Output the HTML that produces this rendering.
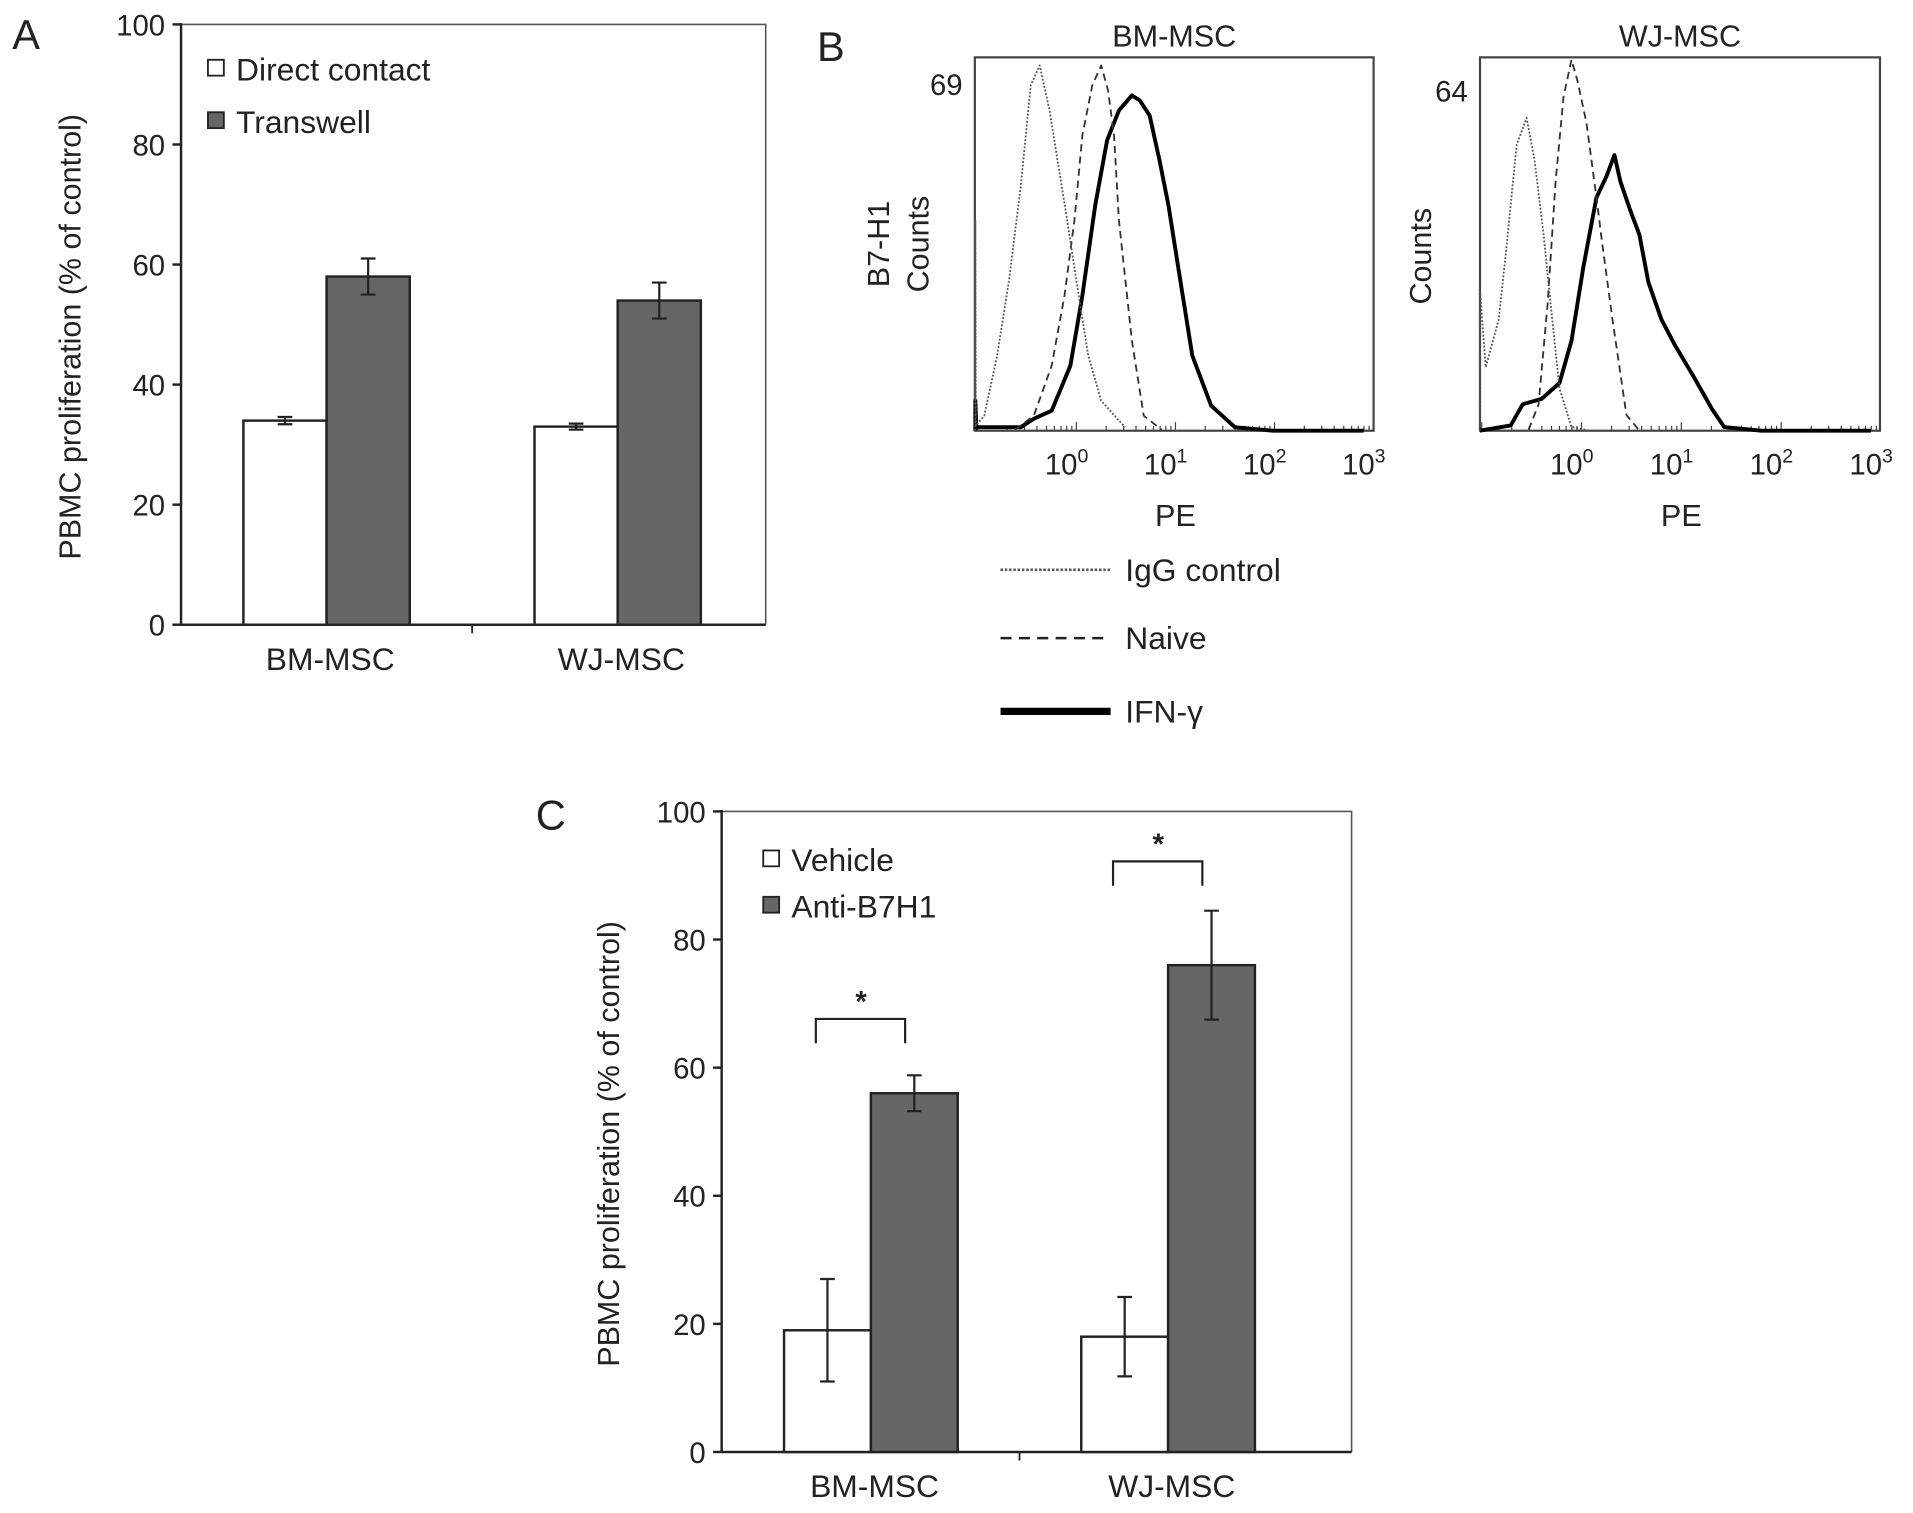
<!DOCTYPE html>
<html><head><meta charset="utf-8"><style>
html,body{margin:0;padding:0;background:#fff}
svg{display:block}
text{font-family:"Liberation Sans",Arial,sans-serif;fill:#222}
</style></head><body>
<svg id="fig" width="1913" height="1513" viewBox="0 0 1564 1240" preserveAspectRatio="none" xmlns="http://www.w3.org/2000/svg">
<g id="A"></g>
<g id="B"></g>
<g id="C"></g>
</svg>
<script>
// ---- Panel A data ----
const aCategories = ["BM-MSC","WJ-MSC"];
const aDirect = [34, 33];
const aDirectErr = [0.6, 0.5];
const aTranswell = [58, 54];
const aTranswellErr = [3, 3];
const aTicks = [0,20,40,60,80,100];
// ---- Panel C data ----
const cCategories = ["BM-MSC","WJ-MSC"];
const cVehicle = [19, 18];
const cVehicleErr = [8, 6.2];
const cAnti = [56, 76];
const cAntiErr = [2.8, 8.5];
const cBracket = [67.6, 92.2];
const cTicks = [0,20,40,60,80,100];
// ---- Panel B data (log10 PE, counts) ----
const bmIgGLog = [-1.02,-1.02,-1.015,-0.93,-0.80,-0.68,-0.56,-0.46,-0.37,-0.27,-0.19,-0.10,0,0.12,0.25,0.49];
const bmIgGCnt = [0,42,1,3,15,30,49,69,73,64,54,43,30,15,6,0.7];
const bmNaiveLog = [-0.62,-0.43,-0.25,-0.12,-0.02,0.06,0.16,0.25,0.32,0.38,0.43,0.56,0.68,0.86];
const bmNaiveCnt = [0.2,3,13,27,42,59,69,73,68,59,42,18,3,0.2];
const bmIfnLog = [-1.02,-1.02,-1.01,-0.86,-0.56,-0.43,-0.25,-0.06,0.06,0.19,0.31,0.43,0.56,0.64,0.74,0.84,0.93,1.05,1.17,1.36,1.6,1.98,2.9];
const bmIfnCnt = [0,6,0.7,0.7,0.7,2.4,4,13,27,45,58,64,67,66,63,54,45,30,15,5,0.7,0,0];
const wjIgGLog = [-1.02,-1.02,-0.96,-0.83,-0.75,-0.65,-0.55,-0.47,-0.38,-0.31,-0.22,-0.10,0.09];
const wjIgGCnt = [0,27,12,21,35,54,59,51,37,24,8,0.7,0];
const wjNaiveLog = [-0.53,-0.43,-0.34,-0.26,-0.18,-0.10,-0.04,0.05,0.15,0.21,0.31,0.45,0.58];
const wjNaiveCnt = [0.2,5,24,47,63,70,66,58,44,35,21,3,0];
const wjIfnLog = [-1.02,-0.71,-0.59,-0.40,-0.22,-0.10,0.02,0.15,0.25,0.33,0.39,0.48,0.58,0.67,0.80,0.94,1.13,1.31,1.43,1.8,2.9];
const wjIfnCnt = [0,1,5,6,9,17,31,44,48,52,47,42,37,28,21,16,10,4,0.7,0,0];
const bmMax = 69, wjMax = 64;
const decadeLabels = ["0","1","2","3"];

const NS="http://www.w3.org/2000/svg";
function mk(parent,tag,attrs,txt){const e=document.createElementNS(NS,tag);for(const k in attrs)e.setAttribute(k,attrs[k]);if(txt!==undefined)e.textContent=txt;parent.appendChild(e);return e;}

function barPanel(g,o){
  const y=v=>o.y0-(v/100)*(o.y0-o.y100);
  let e=mk(g,'path',{d:`M${o.x0},${o.y100}H${o.x1}V${o.y0}`,fill:'none',stroke:'#555','stroke-width':1.3});
  
  e=mk(g,'line',{x1:o.x0,y1:o.y100-1,x2:o.x0,y2:o.y0,stroke:'#222','stroke-width':2});
  
  e=mk(g,'line',{x1:o.x0,y1:o.y0,x2:o.x1,y2:o.y0,stroke:'#222','stroke-width':2});
  
  o.ticks.forEach(t=>{
    let l=mk(g,'line',{x1:o.x0-7,y1:y(t),x2:o.x0,y2:y(t),stroke:'#222','stroke-width':2});
    
    let tx=mk(g,'text',{x:o.x0-13,y:y(t)+9,'text-anchor':'end','font-size':24},String(t));
    
  });
  const n=o.cats.length;
  const center=i=>o.c0+i*o.cgap;
  for(let i=1;i<n;i++){const tx=(center(i-1)+center(i))/2;let l=mk(g,'line',{x1:tx,y1:o.y0,x2:tx,y2:o.y0+7,stroke:'#222','stroke-width':1.5});
    }
  o.cats.forEach((c,i)=>{
    const cx=center(i);
    [[o.v1,o.e1,'#fff','white'],[o.v2,o.e2,'#666','grey']].forEach((s,k)=>{
      const bx=k===0?cx-o.bw:cx, v=s[0][i], er=s[1][i];
      let r=mk(g,'rect',{x:bx,y:y(v),width:o.bw,height:y(0)-y(v),fill:s[2],stroke:'#222','stroke-width':2});
      
      const mx=bx+o.bw/2;
      let eb=mk(g,'path',{d:`M${mx},${y(v+er)}V${y(v-er)}M${mx-6},${y(v+er)}H${mx+6}M${mx-6},${y(v-er)}H${mx+6}`,stroke:'#222','stroke-width':1.8,fill:'none'});
      
    });
    let t=mk(g,'text',{x:cx+3,y:o.y0+37,'text-anchor':'middle','font-size':26},c);
    
  });
  o.legend.forEach((L,k)=>{
    const ly=o.ly+k*o.lgap;
    let r=mk(g,'rect',{x:o.lx,y:ly-8,width:13,height:13,fill:k?'#666':'#fff',stroke:'#222','stroke-width':1.5});
    
    let t=mk(g,'text',{x:o.lx+23,y:ly+9,'font-size':26},L);
    
  });
  let yl=mk(g,'text',{x:0,y:0,'text-anchor':'middle','font-size':25,transform:`translate(${o.ylx},${(o.y0+o.y100)/2+10}) rotate(-90)`},'PBMC proliferation (% of control)');
  
  let pl=mk(g,'text',{x:o.px,y:o.py,'font-size':34},o.letter);
  
  return {y,center};
}

barPanel(document.getElementById('A'),{x0:148,x1:626,y0:512,y100:20,ticks:aTicks,cats:aCategories,c0:267,cgap:238,bw:68,
  v1:aDirect,e1:aDirectErr,v2:aTranswell,e2:aTranswellErr,legend:["Direct contact","Transwell"],lx:170,ly:57,lgap:43,
  ylx:66,px:10,py:40,letter:'A'});

const gC=document.getElementById('C');
const pc=barPanel(gC,{x0:590,x1:1105,y0:1190,y100:665,ticks:cTicks,cats:cCategories,c0:712,cgap:243,bw:71,
  v1:cVehicle,e1:cVehicleErr,v2:cAnti,e2:cAntiErr,legend:["Vehicle","Anti-B7H1"],lx:624,ly:705,lgap:38,
  ylx:506,px:438,py:680,letter:'C'});
cCategories.forEach((c,i)=>{
  const cx=pc.center(i);
  const yb=pc.y(cBracket[i]), yl=pc.y(cBracket[i]-3.8);
  let b=mk(gC,'path',{d:`M${cx-45},${yl}V${yb}H${cx+28}V${yl}`,fill:'none',stroke:'#222','stroke-width':1.8});
  
  let s=mk(gC,'text',{x:cx-8,y:yb-6,'text-anchor':'middle','font-size':24,'font-weight':'bold'},'*');
  
});

// ---- Panel B ----
const gB=document.getElementById('B');
function hist(o){
  const xs=lv=>o.x10+(lv)*o.dec, ys=c=>o.yb-c*o.cs;
  let f=mk(gB,'rect',{x:o.left,y:o.top,width:o.right-o.left,height:o.yb-o.top,fill:'none',stroke:'#444','stroke-width':1.8});
  
  for(let d=-1;d<3;d++)for(let m=1;m<10;m++){const xv=xs(d+Math.log10(m));if(xv<o.left||xv>o.right)continue;
    let t=mk(gB,'line',{x1:xv,y1:o.yb,x2:xv,y2:o.yb-(m===1?7:4),stroke:'#444','stroke-width':1});
    }
  decadeLabels.forEach((d,i)=>{
    let t=mk(gB,'text',{x:xs(i)-8,y:o.yb+36,'text-anchor':'middle','font-size':24},'10');
    
    mk(t,'tspan',{dy:-10,'font-size':16},d);
  });
  const series=[[o.ifn,'#000',3.2,'none','ifn-gamma-curve'],[o.naive,'#333',1.5,'6,4','naive-curve'],[o.igg,'#555',1.5,'1.5,1.5','igg-control-curve']];
  series.forEach(s=>{
    const d=s[0][0].map((lv,i)=>(i?'L':'M')+xs(Math.max(lv,-1.02)).toFixed(1)+','+ys(s[0][1][i]).toFixed(1)).join('');
    let p=mk(gB,'path',{d,fill:'none',stroke:s[1],'stroke-width':s[2],'stroke-dasharray':s[3],'stroke-linejoin':'round'});
    
  });
  let mx=mk(gB,'text',{x:o.left-10,y:ys(o.max)+8,'text-anchor':'end','font-size':24},String(o.max));
  
  let ti=mk(gB,'text',{x:(o.left+o.right)/2,y:38,'text-anchor':'middle','font-size':25},o.title);
  
  let pe=mk(gB,'text',{x:xs(1),y:431,'text-anchor':'middle','font-size':25},'PE');
  
  o.ylab.forEach((L,k)=>{
    let t=mk(gB,'text',{x:0,y:0,'text-anchor':'middle','font-size':25,transform:`translate(${o.ylx+k*32},${o.yly}) rotate(-90)`},L);
    
  });
}
hist({left:797,right:1123,top:47,yb:353,x10:880,dec:81,cs:283/69,max:bmMax,title:'BM-MSC',
  igg:[bmIgGLog,bmIgGCnt],naive:[bmNaiveLog,bmNaiveCnt],ifn:[bmIfnLog,bmIfnCnt],ylab:['B7-H1','Counts'],ylx:727,yly:200});
hist({left:1210,right:1537,top:47,yb:353,x10:1293,dec:81.6,cs:278/64,max:wjMax,title:'WJ-MSC',
  igg:[wjIgGLog,wjIgGCnt],naive:[wjNaiveLog,wjNaiveCnt],ifn:[wjIfnLog,wjIfnCnt],ylab:['Counts'],ylx:1170,yly:210});
let pb=mk(gB,'text',{x:668,y:50,'font-size':34},'B');

[['IgG control','#555',2.2,'2,1.5',467],['Naive','#222',2,'9,6',523],['IFN-γ','#000',6,'none',583]].forEach(L=>{
  let l=mk(gB,'line',{x1:818,y1:L[4],x2:908,y2:L[4],stroke:L[1],'stroke-width':L[2],'stroke-dasharray':L[3]});
  
  let t=mk(gB,'text',{x:920,y:L[4]+9,'font-size':26},L[0]);
  
});
</script>
</body></html>
